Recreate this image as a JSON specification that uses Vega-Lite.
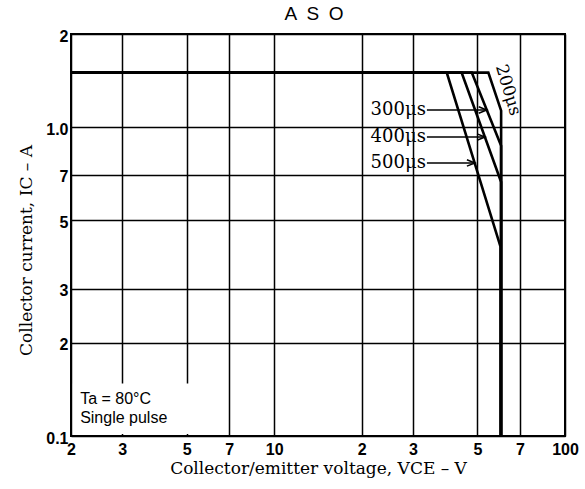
{
  "$schema": "https://vega.github.io/schema/vega-lite/v6.json",
  "width": 494,
  "height": 402,
  "autosize": {"type": "none"},
  "padding": {"left": 71, "top": 34, "right": 20, "bottom": 53},
  "background": "white",
  "config": {
    "view": {"stroke": "black", "strokeWidth": 2},
    "axis": {
      "grid": true, "gridColor": "black", "gridWidth": 1.5, "gridOpacity": 1,
      "domain": false, "ticks": false, "tickSize": 0,
      "labelFont": "Liberation Sans", "labelFontSize": 16, "labelFontWeight": "bold", "labelColor": "black",
      "labelFlush": false, "labelOverlap": false, "labelBound": false,
      "titleFont": "DejaVu Serif", "titleFontSize": 17, "titleFontWeight": "normal", "titleColor": "black"
    }
  },
  "datasets": {
    "curves": [
      {"series": "200", "o": 1, "V": 2, "I": 1.5},
      {"series": "200", "o": 2, "V": 54.5, "I": 1.5},
      {"series": "200", "o": 3, "V": 60.3, "I": 1.13},
      {"series": "200", "o": 4, "V": 60.3, "I": 0.1},
      {"series": "300", "o": 1, "V": 2, "I": 1.5},
      {"series": "300", "o": 2, "V": 47.8, "I": 1.5},
      {"series": "300", "o": 3, "V": 60.3, "I": 0.87},
      {"series": "300", "o": 4, "V": 60.3, "I": 0.1},
      {"series": "400", "o": 1, "V": 2, "I": 1.5},
      {"series": "400", "o": 2, "V": 44.1, "I": 1.5},
      {"series": "400", "o": 3, "V": 60.3, "I": 0.664},
      {"series": "400", "o": 4, "V": 60.3, "I": 0.1},
      {"series": "500", "o": 1, "V": 2, "I": 1.5},
      {"series": "500", "o": 2, "V": 39.2, "I": 1.5},
      {"series": "500", "o": 3, "V": 60, "I": 0.41},
      {"series": "500", "o": 4, "V": 60, "I": 0.1}
    ],
    "arrows": [
      {"label": "300μs", "V": 33.5, "V2": 53.8, "I": 1.135},
      {"label": "400μs", "V": 33.5, "V2": 53.1, "I": 0.928},
      {"label": "500μs", "V": 33.5, "V2": 49.0, "I": 0.765}
    ],
    "box": [{"V": 2.03, "V2": 6.0, "I": 0.1015, "I2": 0.148}],
    "notes": [
      {"text": "Ta = 80°C", "V": 2.15, "I": 0.132},
      {"text": "Single pulse", "V": 2.15, "I": 0.1145}
    ],
    "rot": [{"text": "200μs", "V": 63.7, "I": 1.317}],
    "heading": [{"text": "A\u2002S\u2002O", "V": 13.7, "I": 2.22}]
  },
  "layer": [
    {
      "data": {"name": "box"},
      "mark": {"type": "rect", "fill": "white", "stroke": null},
      "encoding": {
        "x": {"field": "V", "type": "quantitative",
          "scale": {"type": "log", "domain": [2, 100], "nice": false},
          "axis": {
            "values": [2, 3, 5, 7, 10, 20, 30, 50, 70, 100],
            "labelExpr": "datum.value==10?'10':datum.value==100?'100':datum.value>10?toString(datum.value/10):toString(datum.value)",
            "labelPadding": 5,
            "title": "Collector/emitter voltage, VCE – V",
            "titlePadding": 3
          }},
        "x2": {"field": "V2"},
        "y": {"field": "I", "type": "quantitative",
          "scale": {"type": "log", "domain": [0.1, 2], "nice": false},
          "axis": {
            "values": [0.1, 0.2, 0.3, 0.5, 0.7, 1, 2],
            "labelExpr": "datum.value==0.1?'0.1':datum.value==1?'1.0':datum.value==2?'2':toString(round(datum.value*10))",
            "labelPadding": 3,
            "labelOffset": 2,
            "title": "Collector current, IC – A",
            "titleAngle": -90,
            "titleX": -40,
            "titleY": 216,
            "titleAlign": "center",
            "titleBaseline": "alphabetic"
          }},
        "y2": {"field": "I2"}
      }
    },
    {
      "data": {"name": "curves"},
      "mark": {"type": "line", "color": "black", "strokeWidth": 2.6, "strokeJoin": "miter", "clip": true},
      "encoding": {
        "x": {"field": "V", "type": "quantitative"},
        "y": {"field": "I", "type": "quantitative"},
        "detail": {"field": "series"},
        "order": {"field": "o", "type": "quantitative"}
      }
    },
    {
      "data": {"name": "arrows"},
      "mark": {"type": "rule", "color": "black", "strokeWidth": 1.5},
      "encoding": {
        "x": {"field": "V", "type": "quantitative"},
        "x2": {"field": "V2"},
        "y": {"field": "I", "type": "quantitative"}
      }
    },
    {
      "data": {"name": "arrows"},
      "mark": {"type": "point", "shape": "M-2,-0.8L0,0L-2,0.8", "filled": false, "stroke": "black", "strokeWidth": 1.5, "size": 64, "opacity": 1},
      "encoding": {
        "x": {"field": "V2", "type": "quantitative"},
        "y": {"field": "I", "type": "quantitative"}
      }
    },
    {
      "data": {"name": "arrows"},
      "mark": {"type": "text", "align": "right", "baseline": "middle", "font": "DejaVu Serif", "fontSize": 18, "color": "black", "dx": -1},
      "encoding": {
        "x": {"field": "V", "type": "quantitative"},
        "y": {"field": "I", "type": "quantitative"},
        "text": {"field": "label"}
      }
    },
    {
      "data": {"name": "rot"},
      "mark": {"type": "text", "align": "center", "baseline": "middle", "font": "DejaVu Serif", "fontSize": 17, "color": "black", "angle": 73},
      "encoding": {
        "x": {"field": "V", "type": "quantitative"},
        "y": {"field": "I", "type": "quantitative"},
        "text": {"field": "text"}
      }
    },
    {
      "data": {"name": "notes"},
      "mark": {"type": "text", "align": "left", "baseline": "middle", "font": "Liberation Sans", "fontSize": 16, "color": "black"},
      "encoding": {
        "x": {"field": "V", "type": "quantitative"},
        "y": {"field": "I", "type": "quantitative"},
        "text": {"field": "text"}
      }
    },
    {
      "data": {"name": "heading"},
      "mark": {"type": "text", "align": "center", "baseline": "alphabetic", "font": "Liberation Sans", "fontSize": 19, "color": "black", "clip": false},
      "encoding": {
        "x": {"field": "V", "type": "quantitative"},
        "y": {"field": "I", "type": "quantitative"},
        "text": {"field": "text"}
      }
    }
  ]
}
